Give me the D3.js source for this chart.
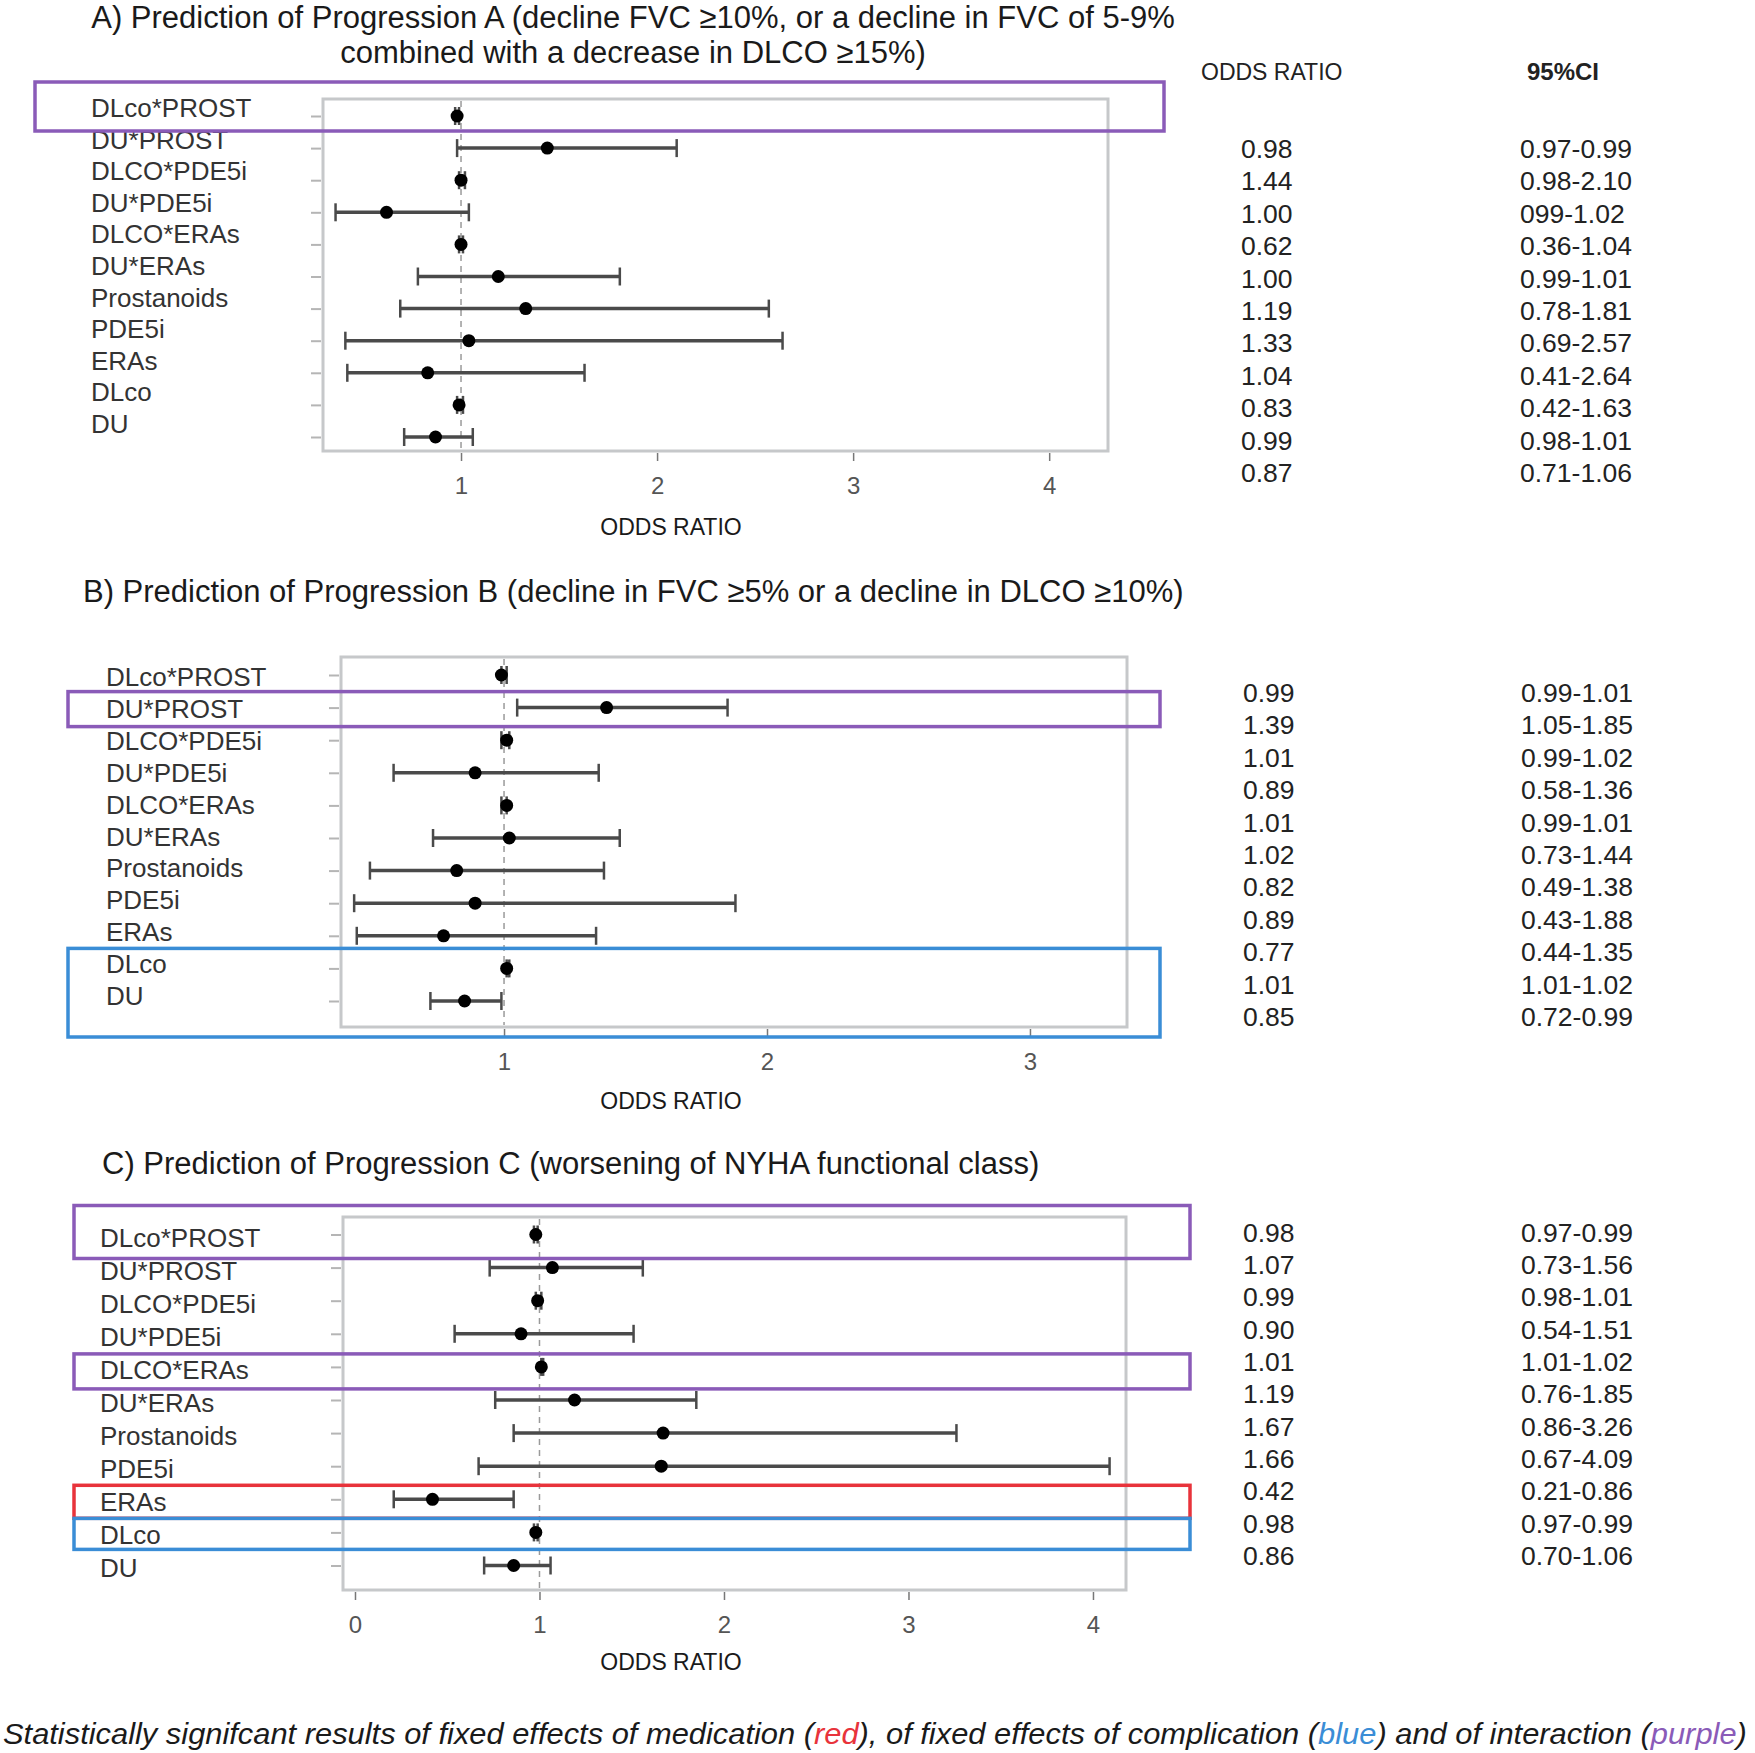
<!DOCTYPE html>
<html>
<head>
<meta charset="utf-8">
<script src="https://cdn.jsdelivr.net/npm/d3@7"></script>
<style>
  body { margin: 0; background: #fff; }
  svg { display: block; font-family: "Liberation Sans", Arial, sans-serif; }
</style>
</head>
<body>
<svg id="forest" width="1755" height="1753"></svg>
<script>
// row labels, same in all three panels (top to bottom)
const rows = ["DLco*PROST", "DU*PROST", "DLCO*PDE5i", "DU*PDE5i", "DLCO*ERAs", "DU*ERAs",
  "Prostanoids", "PDE5i", "ERAs", "DLco", "DU"];

// panel A
const orA = [0.98, 1.44, 1.00, 0.62, 1.00, 1.19, 1.33, 1.04, 0.83, 0.99, 0.87];
const loA = [0.97, 0.98, 0.99, 0.36, 0.99, 0.78, 0.69, 0.41, 0.42, 0.98, 0.71];
const hiA = [0.99, 2.10, 1.02, 1.04, 1.01, 1.81, 2.57, 2.64, 1.63, 1.01, 1.06];
const ciTextA = ["0.97-0.99", "0.98-2.10", "099-1.02", "0.36-1.04", "0.99-1.01", "0.78-1.81",
  "0.69-2.57", "0.41-2.64", "0.42-1.63", "0.98-1.01", "0.71-1.06"];

// panel B
const orB = [0.99, 1.39, 1.01, 0.89, 1.01, 1.02, 0.82, 0.89, 0.77, 1.01, 0.85];
const loB = [0.99, 1.05, 0.99, 0.58, 0.99, 0.73, 0.49, 0.43, 0.44, 1.01, 0.72];
const hiB = [1.01, 1.85, 1.02, 1.36, 1.01, 1.44, 1.38, 1.88, 1.35, 1.02, 0.99];

// panel C
const orC = [0.98, 1.07, 0.99, 0.90, 1.01, 1.19, 1.67, 1.66, 0.42, 0.98, 0.86];
const loC = [0.97, 0.73, 0.98, 0.54, 1.01, 0.76, 0.86, 0.67, 0.21, 0.97, 0.70];
const hiC = [0.99, 1.56, 1.01, 1.51, 1.02, 1.85, 3.26, 4.09, 0.86, 0.99, 1.06];

const ticksA = [1, 2, 3, 4];
const ticksB = [1, 2, 3];
const ticksC = [0, 1, 2, 3, 4];

const titleA = ["A) Prediction of Progression A (decline FVC \u226510%, or a decline in FVC of 5-9%",
  "combined with a decrease in DLCO \u226515%)"];
const titleB = ["B) Prediction of Progression B (decline in FVC \u22655% or a decline in DLCO \u226510%)"];
const titleC = ["C) Prediction of Progression C (worsening of NYHA functional class)"];
const tableHeads = ["ODDS RATIO", "95%CI"];

// significant rows (first row, last row, colour key)
const hlA = [["DLco*PROST", "DLco*PROST", "purple"]];
const hlB = [["DU*PROST", "DU*PROST", "purple"], ["DLco", "DU", "blue"]];
const hlC = [["DLco*PROST", "DLco*PROST", "purple"], ["DLCO*ERAs", "DLCO*ERAs", "purple"],
  ["ERAs", "ERAs", "red"], ["DLco", "DLco", "blue"]];

const footerParts = [["Statistically signifcant results of fixed effects of medication (", null],
  ["red", "red"], ["), of fixed effects of complication (", null], ["blue", "blue"],
  [") and of interaction (", null], ["purple", "purple"], [")", null]];

const colors = { purple: "#8a5bb8", blue: "#3a8dd6", red: "#e8333b" };

const svg = d3.select("svg#forest");

function drawPanel(p) {
  const x = d3.scaleLinear().domain(p.xDomain).range([p.box.left, p.box.right]);
  const yPt = d3.scalePoint().domain(rows).range(p.ptRange);
  const yLbl = d3.scalePoint().domain(rows).range(p.lblRange);
  const yTab = d3.scalePoint().domain(rows).range(p.tabRange);
  const g = svg.append("g");

  // title
  p.title.forEach((t, i) => {
    g.append("text")
      .text(t)
      .attr("x", p.titleX)
      .attr("y", p.titleY[i])
      .attr("text-anchor", p.titleAnchor)
      .attr("font-size", 31)
      .attr("fill", "#1a1a1a");
  });

  // plot frame
  g.append("rect")
    .attr("x", p.box.left)
    .attr("y", p.box.top)
    .attr("width", p.box.right - p.box.left)
    .attr("height", p.box.bottom - p.box.top)
    .attr("fill", "none")
    .attr("stroke", "#c6c8ca")
    .attr("stroke-width", 3);

  // reference line at OR = 1
  g.append("line")
    .attr("x1", x(1)).attr("x2", x(1))
    .attr("y1", p.box.top + 2).attr("y2", p.box.bottom - 2)
    .attr("stroke", "#9a9a9a")
    .attr("stroke-width", 1.5)
    .attr("stroke-dasharray", "6,5");

  // axes
  const bottomAxis = d3.axisBottom(x).tickValues(p.ticks).tickSize(8).tickPadding(16).tickFormat(d3.format("d"));
  const ax = g.append("g")
    .attr("transform", "translate(0," + (p.box.bottom + 2) + ")")
    .call(bottomAxis);
  ax.select(".domain").remove();
  ax.selectAll("line").attr("stroke", "#777").attr("stroke-width", 1.5);
  ax.selectAll("text").attr("font-size", 24).attr("fill", "#555").attr("font-family", "Liberation Sans, Arial");

  const leftAxis = d3.axisLeft(yPt).tickSize(10).tickFormat("");
  const ay = g.append("g")
    .attr("transform", "translate(" + (p.box.left - 2) + ",0)")
    .call(leftAxis);
  ay.select(".domain").remove();
  ay.selectAll("line").attr("stroke", "#b5b5b5").attr("stroke-width", 2);

  // row labels
  rows.forEach(r => {
    g.append("text")
      .text(r)
      .attr("x", p.lblX)
      .attr("y", yLbl(r))
      .attr("font-size", 26)
      .attr("fill", "#333");
  });

  // error bars and points
  rows.forEach((r, i) => {
    const y = yPt(r);
    g.append("line")
      .attr("x1", x(p.lo[i])).attr("x2", x(p.hi[i]))
      .attr("y1", y).attr("y2", y)
      .attr("stroke", "#4a4a4a").attr("stroke-width", 3.5);
    [p.lo[i], p.hi[i]].forEach(v => {
      g.append("line")
        .attr("x1", x(v)).attr("x2", x(v))
        .attr("y1", y - 9).attr("y2", y + 9)
        .attr("stroke", "#4a4a4a").attr("stroke-width", 2.5);
    });
    g.append("circle")
      .attr("cx", x(p.or[i]))
      .attr("cy", y)
      .attr("r", 6.5)
      .attr("fill", "#000");
  });

  // x axis title
  g.append("text")
    .text("ODDS RATIO")
    .attr("x", 671)
    .attr("y", p.xlabY)
    .attr("text-anchor", "middle")
    .attr("font-size", 23)
    .attr("fill", "#1a1a1a");

  // right-hand table
  if (p.heads) {
    g.append("text").text(tableHeads[0])
      .attr("x", 1201).attr("y", 80).attr("font-size", 23).attr("fill", "#222");
    g.append("text").text(tableHeads[1])
      .attr("x", 1527).attr("y", 80).attr("font-size", 24).attr("font-weight", "bold").attr("fill", "#222");
  }
  rows.forEach((r, i) => {
    g.append("text")
      .text(p.or[i].toFixed(2))
      .attr("x", p.tabX[0])
      .attr("y", yTab(r))
      .attr("font-size", 26.5)
      .attr("fill", "#222");
    g.append("text")
      .text(p.ciText ? p.ciText[i] : p.lo[i].toFixed(2) + "-" + p.hi[i].toFixed(2))
      .attr("x", p.tabX[1])
      .attr("y", yTab(r))
      .attr("font-size", 26.5)
      .attr("fill", "#222");
  });

  // significance boxes
  p.hl.forEach(h => {
    const pads = p.hlPad[h[0]];
    const y0 = yPt(h[0]) - pads[0];
    const y1 = yPt(h[1]) + pads[1];
    g.append("rect")
      .attr("x", p.hlX[0])
      .attr("y", y0)
      .attr("width", p.hlX[1] - p.hlX[0])
      .attr("height", y1 - y0)
      .attr("fill", "none")
      .attr("stroke", colors[h[2]])
      .attr("stroke-width", 3.5);
  });
}

drawPanel({
  title: titleA, titleX: 633, titleY: [28, 63], titleAnchor: "middle",
  or: orA, lo: loA, hi: hiA, ciText: ciTextA, ticks: ticksA,
  xDomain: [0.296, 4.30], box: { left: 323, right: 1108, top: 99, bottom: 451 },
  ptRange: [116, 437], lblRange: [117, 433], tabRange: [158, 482], lblX: 91,
  xlabY: 535, heads: true, tabX: [1241, 1520],
  hl: hlA, hlX: [35, 1164], hlPad: { "DLco*PROST": [34, 15] }
});

drawPanel({
  title: titleB, titleX: 83, titleY: [602], titleAnchor: "start",
  or: orB, lo: loB, hi: hiB, ticks: ticksB,
  xDomain: [0.380, 3.369], box: { left: 341, right: 1127, top: 657, bottom: 1027 },
  ptRange: [675, 1001], lblRange: [686, 1005], tabRange: [702, 1026], lblX: 106,
  xlabY: 1109, heads: false, tabX: [1243, 1521],
  hl: hlB, hlX: [68, 1160], hlPad: { "DU*PROST": [16, 19], "DLco": [20, 36] }
});

drawPanel({
  title: titleC, titleX: 102, titleY: [1174], titleAnchor: "start",
  or: orC, lo: loC, hi: hiC, ticks: ticksC,
  xDomain: [-0.065, 4.179], box: { left: 343, right: 1126, top: 1217, bottom: 1590 },
  ptRange: [1234.5, 1565.5], lblRange: [1247, 1577], tabRange: [1241.5, 1565], lblX: 100,
  xlabY: 1670, heads: false, tabX: [1243, 1521],
  hl: hlC, hlX: [74, 1190],
  hlPad: { "DLco*PROST": [29, 24], "DLCO*ERAs": [13, 22], "ERAs": [14, 19], "DLco": [14, 17] }
});

// footer note, fitted to the page width and stretched a bit in height
const foot = svg.append("text")
  .attr("x", 3)
  .attr("y", 0)
  .attr("font-size", 25)
  .attr("font-style", "italic")
  .attr("fill", "#1a1a1a");
footerParts.forEach(fp => {
  foot.append("tspan").text(fp[0]).attr("fill", fp[1] ? colors[fp[1]] : "#1a1a1a");
});
const footLen = foot.node().getComputedTextLength();
const footSize = 25 * 1744 / footLen;
foot.attr("font-size", footSize)
  .attr("transform", "translate(0,1744) scale(1," + (29 / footSize) + ")");
</script>
</body>
</html>
